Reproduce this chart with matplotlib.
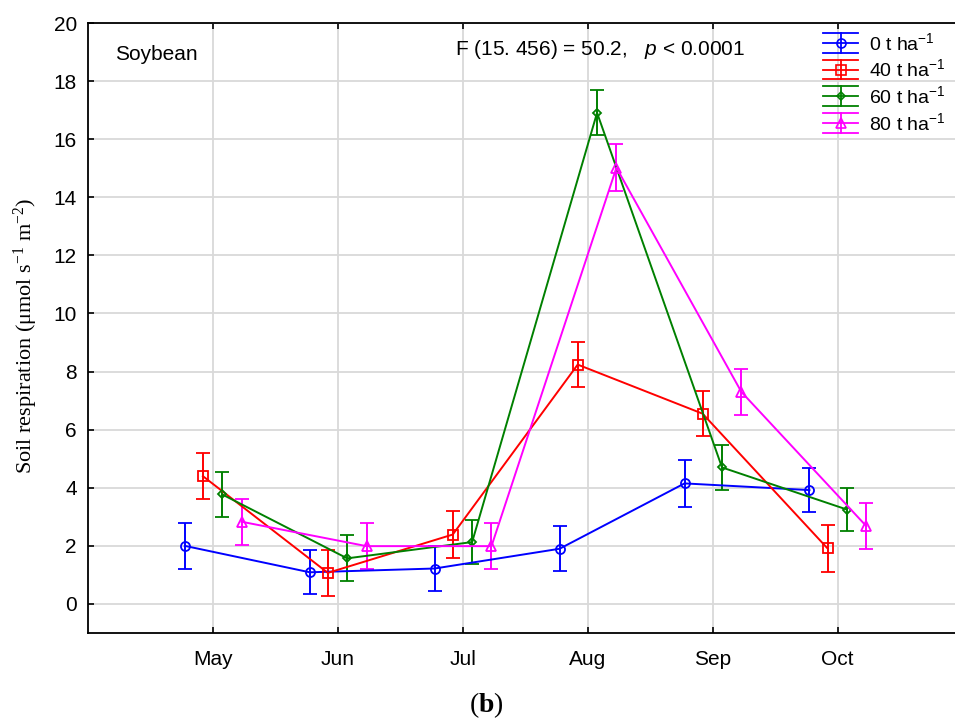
import matplotlib
matplotlib.use("Agg")
import matplotlib.pyplot as plt
from matplotlib.legend_handler import HandlerBase
from matplotlib.lines import Line2D
import numpy as np

months = ["May", "Jun", "Jul", "Aug", "Sep", "Oct"]
labels = ["0 t ha$\\mathregular{^{-1}}$", "40 t ha$\\mathregular{^{-1}}$",
          "60 t ha$\\mathregular{^{-1}}$", "80 t ha$\\mathregular{^{-1}}$"]

resp_0 = [2.0, 1.09, 1.22, 1.9, 4.15, 3.92]
resp_40 = [4.40, 1.07, 2.39, 8.24, 6.55, 1.91]
resp_60 = [3.77, 1.57, 2.13, 16.91, 4.70, 3.25]
resp_80 = [2.83, 1.99, 1.99, 15.02, 7.30, 2.68]

err_0 = [0.78, 0.76, 0.78, 0.78, 0.80, 0.77]
err_40 = [0.78, 0.80, 0.80, 0.77, 0.78, 0.80]
err_60 = [0.77, 0.79, 0.76, 0.77, 0.78, 0.75]
err_80 = [0.80, 0.78, 0.78, 0.80, 0.80, 0.80]

plt.rcParams["font.family"] = ["Liberation Sans", "DejaVu Sans"]
plt.rcParams["mathtext.fontset"] = "custom"
plt.rcParams["mathtext.rm"] = "Liberation Sans"
plt.rcParams["mathtext.it"] = "Liberation Sans:italic"
plt.rcParams["mathtext.bf"] = "Liberation Serif:bold"


class Key:
    def __init__(self, color, marker, ms):
        self.color = color
        self.marker = marker
        self.ms = ms


class KeyHandler(HandlerBase):
    # legend key: line, wide caps top and bottom, vertical bar and marker
    def create_artists(self, legend, h, xd, yd, width, height, fontsize, trans):
        cx = width / 2 - xd
        cy = height / 2 - yd
        dy = height * 0.72
        lw = 1.3
        arts = [
            Line2D([-xd, width - xd], [cy, cy], color=h.color, lw=lw),
            Line2D([-xd, width - xd], [cy + dy, cy + dy], color=h.color, lw=lw),
            Line2D([-xd, width - xd], [cy - dy, cy - dy], color=h.color, lw=lw),
            Line2D([cx, cx], [cy - dy, cy + dy], color=h.color, lw=lw),
            Line2D([cx], [cy], marker=h.marker, markersize=h.ms, color=h.color,
                   markerfacecolor="none", markeredgewidth=1.2),
        ]
        for a in arts:
            a.set_transform(trans)
        return arts


fig = plt.figure(figsize=(9.55, 7.24), dpi=100)
ax = fig.add_axes([0.0921, 0.1257, 0.9079, 0.8425])

x = np.arange(1, len(months) + 1)
series = [
    (resp_0, err_0, "#0000ff", "o", -0.225, 6.5),
    (resp_40, err_40, "#ff0000", "s", -0.08, 6.5),
    (resp_60, err_60, "#008000", "D", 0.075, 4.5),
    (resp_80, err_80, "#ff00ff", "^", 0.23, 6.5),
]
keys = []
for (vals, errs, col, mk, off, ms), lab in zip(series, labels):
    ax.errorbar(x + off, vals, yerr=errs, color=col, marker=mk, markersize=ms,
                markerfacecolor="none", markeredgecolor=col, markeredgewidth=1.3,
                lw=1.4, elinewidth=1.4, capsize=5, capthick=1.4, zorder=3)
    keys.append(Key(col, mk, ms))

ax.set_xlim(0, 6.94)
ax.set_ylim(-1, 20)
ax.set_xticks(x)
ax.set_xticklabels(months)
ax.set_yticks(np.arange(0, 21, 2))
ax.grid(True, color="#d9d9d9", lw=1.3, zorder=0)
ax.set_axisbelow(True)
ax.spines["right"].set_visible(False)
for s in ["left", "bottom", "top"]:
    ax.spines[s].set_linewidth(1.3)
ax.tick_params(direction="in", length=4, width=1.2, labelsize=15, top=True)
ax.tick_params(axis="x", pad=12)
ax.tick_params(axis="y", pad=8)

ax.set_ylabel("Soil respiration (μmol s$\\mathregular{^{-1}}$ m$\\mathregular{^{-2}}$)",
              family="Liberation Serif", fontsize=16, va="center")
ax.yaxis.set_label_coords(-0.0715, 0.487)

ax.text(0.22, 18.9, "Soybean", fontsize=15, va="center", ha="left")
ax.text(4.1, 19.08, "F (15. 456) = 50.2,   $\\mathit{p}$ < 0.0001", fontsize=15,
        va="center", ha="center")

ax.legend(keys, labels, handler_map={Key: KeyHandler()},
          loc="upper left", bbox_to_anchor=(823 / 955, 1 - 32 / 724),
          bbox_transform=fig.transFigure, frameon=False, fontsize=14,
          labelspacing=0.24, handlelength=1.8, handletextpad=0.55,
          borderaxespad=0, borderpad=0)

fig.text(0.509, 0.016, "($\\mathbf{b}$)", family="Liberation Serif", fontsize=20,
         ha="center", va="baseline")

fig.savefig("out.png", dpi=100)
